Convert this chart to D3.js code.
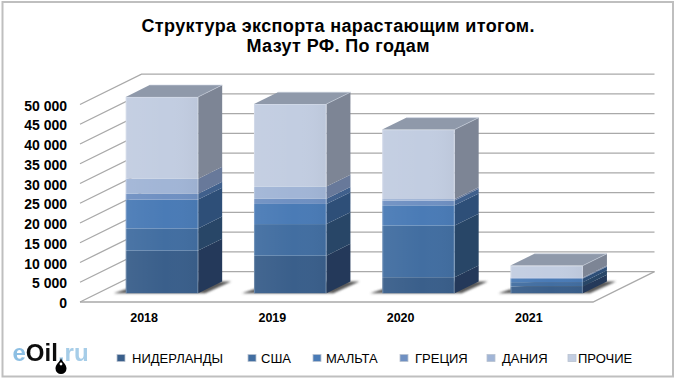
<!DOCTYPE html>
<html>
<head>
<meta charset="utf-8">
<script src="https://cdn.jsdelivr.net/npm/d3@7"></script>
<style>
  html, body { margin: 0; padding: 0; background: #fff; }
  svg { display: block; }
  text { font-family: "Liberation Sans", Arial, sans-serif; fill: #000; }
</style>
</head>
<body>
<div id="chart"></div>
<script>
// values, thousand-level estimates
const years = ["2018", "2019", "2020", "2021"];
const seriesNames = ["НИДЕРЛАНДЫ", "США", "МАЛЬТА", "ГРЕЦИЯ", "ДАНИЯ", "ПРОЧИЕ"];
const netherlands = [10800, 9500, 4050, 1700];
const usa = [5600, 8000, 13100, 1100];
const malta = [7300, 5100, 5100, 900];
const greece = [1500, 1300, 1200, 150];
const denmark = [3800, 3100, 400, 150];
const others = [20700, 20900, 17600, 3000];
const yTicks = [0, 5000, 10000, 15000, 20000, 25000, 30000, 35000, 40000, 45000, 50000];

const frontColors = ["#3a5f8b", "#426ea1", "#4a7bb6", "#6f90c2", "#a1b5d6", "#c2cde1"];
const sideColors = ["#24395a", "#284667", "#2e4f78", "#40608c", "#68799a", "#7d8595"];
const topColor = "#8f99aa";
const gridColor = "#a9a9a9";

const width = 680;
const height = 384;

const rows = years.map((year, i) => ({
  year,
  [seriesNames[0]]: netherlands[i],
  [seriesNames[1]]: usa[i],
  [seriesNames[2]]: malta[i],
  [seriesNames[3]]: greece[i],
  [seriesNames[4]]: denmark[i],
  [seriesNames[5]]: others[i],
}));
const stacked = d3.stack().keys(seriesNames)(rows);

const x = d3.scaleBand().domain(years).range([80, 593]).paddingInner(0.435).paddingOuter(0.2175);
const y = d3.scaleLinear().domain([0, 50000]).range([302, 104.5]);

// oblique projection of the 3d box, depth 0 = front edge of floor, 1 = back wall
const depthX = 61.5;
const depthY = -30.3;
const barFront = 0.29;
const barBack = 0.68;
const project = (px, py, d) => [px + depthX * d, py + depthY * d];
const pts = (list) => list.map((p) => p.join(",")).join(" ");

const svg = d3.select("#chart").append("svg").attr("width", width).attr("height", height);

const defs = svg.append("defs");
defs.append("filter").attr("id", "shadowBlur")
  .attr("x", "-20%").attr("y", "-20%").attr("width", "140%").attr("height", "140%")
  .append("feGaussianBlur").attr("stdDeviation", 1.2);
defs.append("filter").attr("id", "soft")
  .append("feGaussianBlur").attr("stdDeviation", 0.35);
const sheen = defs.append("linearGradient").attr("id", "sheen");
sheen.append("stop").attr("offset", "0%").attr("stop-color", "#fff").attr("stop-opacity", 0.05);
sheen.append("stop").attr("offset", "55%").attr("stop-color", "#fff").attr("stop-opacity", 0);
sheen.append("stop").attr("offset", "100%").attr("stop-color", "#000").attr("stop-opacity", 0.03);

// outer frame
svg.append("rect")
  .attr("x", 2.5).attr("y", 2).attr("width", 670.5).attr("height", 374.5)
  .attr("fill", "#fff").attr("stroke", "#bfbfbf").attr("stroke-width", 2);

// title
const title = svg.append("text")
  .attr("text-anchor", "middle").attr("font-weight", "bold").attr("font-size", 18);
title.append("tspan").attr("x", 338).attr("y", 32).attr("textLength", 393).text("Структура экспорта нарастающим итогом.");
title.append("tspan").attr("x", 338).attr("y", 52).attr("textLength", 183).text("Мазут РФ. По годам");

// walls: gridlines run along the left wall and then along the back wall
const walls = svg.append("g").attr("fill", "none").attr("stroke", gridColor).attr("stroke-width", 1.3);
yTicks.forEach((t) => {
  const front = project(x.range()[0], y(t), 0);
  const back = project(x.range()[0], y(t), 1);
  const right = project(x.range()[1], y(t), 1);
  walls.append("polyline").attr("points", pts([front, back, right]));
});
// floor outline
walls.append("polyline").attr("points", pts([
  project(x.range()[0], y(0), 0),
  project(x.range()[1], y(0), 0),
  project(x.range()[1], y(0), 1),
]));

// y labels
svg.append("g").selectAll("text").data(yTicks).join("text")
  .attr("x", 67)
  .attr("y", (d) => y(d) + 2.5)
  .attr("dominant-baseline", "middle")
  .attr("text-anchor", "end")
  .attr("font-weight", "bold")
  .attr("font-size", 14)
  .text((d) => d3.format(",")(d).replace(",", " "));

// x labels
svg.append("g").selectAll("text").data(years).join("text")
  .attr("x", (d) => x(d) + x.bandwidth() / 2)
  .attr("y", 322)
  .attr("text-anchor", "middle")
  .attr("font-weight", "bold")
  .attr("font-size", 12.5)
  .text((d) => d);

// floor shadows
svg.append("g").selectAll("polygon").data(years).join("polygon")
  .attr("filter", "url(#shadowBlur)")
  .attr("fill", "#5a5a5a")
  .attr("points", (d) => {
    const l = x(d);
    const r = l + x.bandwidth();
    return pts([
      project(l - 12, y(0), barFront),
      project(r + 7, y(0), barFront),
      project(r + 9, y(0), barBack),
      project(l, y(0), barBack),
    ]);
  });

// bars, one box per year, segments from the stack
const bars = svg.append("g").selectAll("g").data(years).join("g");
bars.each(function (year, yearIndex) {
  const g = d3.select(this);
  const l = x(year);
  const r = l + x.bandwidth();

  stacked.forEach((layer, s) => {
    const [v0, v1] = layer[yearIndex];
    g.append("polygon")
      .attr("fill", sideColors[s])
      .attr("points", pts([
        project(r, y(v0), barFront),
        project(r, y(v0), barBack),
        project(r, y(v1), barBack),
        project(r, y(v1), barFront),
      ]));
    const a = project(l, y(v1), barFront);
    const b = project(r, y(v0), barFront);
    g.append("rect")
      .attr("x", a[0]).attr("y", a[1]).attr("width", b[0] - a[0]).attr("height", b[1] - a[1])
      .attr("fill", frontColors[s]);
  });

  const total = stacked[stacked.length - 1][yearIndex][1];
  g.append("polygon")
    .attr("fill", topColor)
    .attr("points", pts([
      project(l, y(total), barFront),
      project(l, y(total), barBack),
      project(r, y(total), barBack),
      project(r, y(total), barFront),
    ]));

  // light edges and sheen on the front face
  const a = project(l, y(total), barFront);
  const b = project(r, y(0), barFront);
  g.append("rect")
    .attr("x", a[0]).attr("y", a[1]).attr("width", b[0] - a[0]).attr("height", b[1] - a[1])
    .attr("fill", "url(#sheen)");
  g.append("polyline")
    .attr("fill", "none").attr("stroke", "#fff").attr("stroke-opacity", 0.22).attr("stroke-width", 1.2)
    .attr("points", pts([[a[0] + 0.5, b[1]], [a[0] + 0.5, a[1] + 0.5], [b[0] - 0.5, a[1] + 0.5], [b[0] - 0.5, b[1]]]));
  g.append("polyline")
    .attr("fill", "none").attr("stroke", "#c8d0de").attr("stroke-opacity", 0.6).attr("stroke-width", 1)
    .attr("points", pts([
      project(r, y(total), barFront),
      project(r, y(total), barBack),
      project(l, y(total), barBack),
    ]));
});

// legend, spacing is uneven in the source
const legendMarkX = [117, 248, 313, 400, 487, 568];
const legendTextX = [132, 261, 326, 415, 502, 578];
const legend = svg.append("g").selectAll("g").data(seriesNames).join("g");
legend.append("rect")
  .attr("x", (d, i) => legendMarkX[i]).attr("y", 354.5)
  .attr("width", 8).attr("height", 7)
  .attr("fill", (d, i) => frontColors[i])
  .attr("stroke", "#b9c2d0").attr("stroke-width", 0.8);
legend.append("text")
  .attr("x", (d, i) => legendTextX[i]).attr("y", 363)
  .attr("font-size", 13)
  .text((d) => d);

// eOil.ru logo
const logo = svg.append("g").attr("filter", "url(#soft)");
const logoText = logo.append("text").attr("x", 12.5).attr("y", 361).attr("font-size", 24).attr("font-weight", "bold");
logoText.append("tspan").style("fill", "#8dbfe3").text("e");
logoText.append("tspan").style("fill", "#111").text("Oil");
logoText.append("tspan").style("fill", "#a6cde8").text(".ru");
logo.append("path")
  .attr("fill", "#000")
  .attr("d", "M61 358 C62 362 66.5 364 66.5 368.5 A5.5 5.5 0 0 1 55.5 368.5 C55.5 364 60 362 61 358 Z");
logo.append("circle").attr("cx", 61).attr("cy", 364).attr("r", 1.4).attr("fill", "#fff");
</script>
</body>
</html>
